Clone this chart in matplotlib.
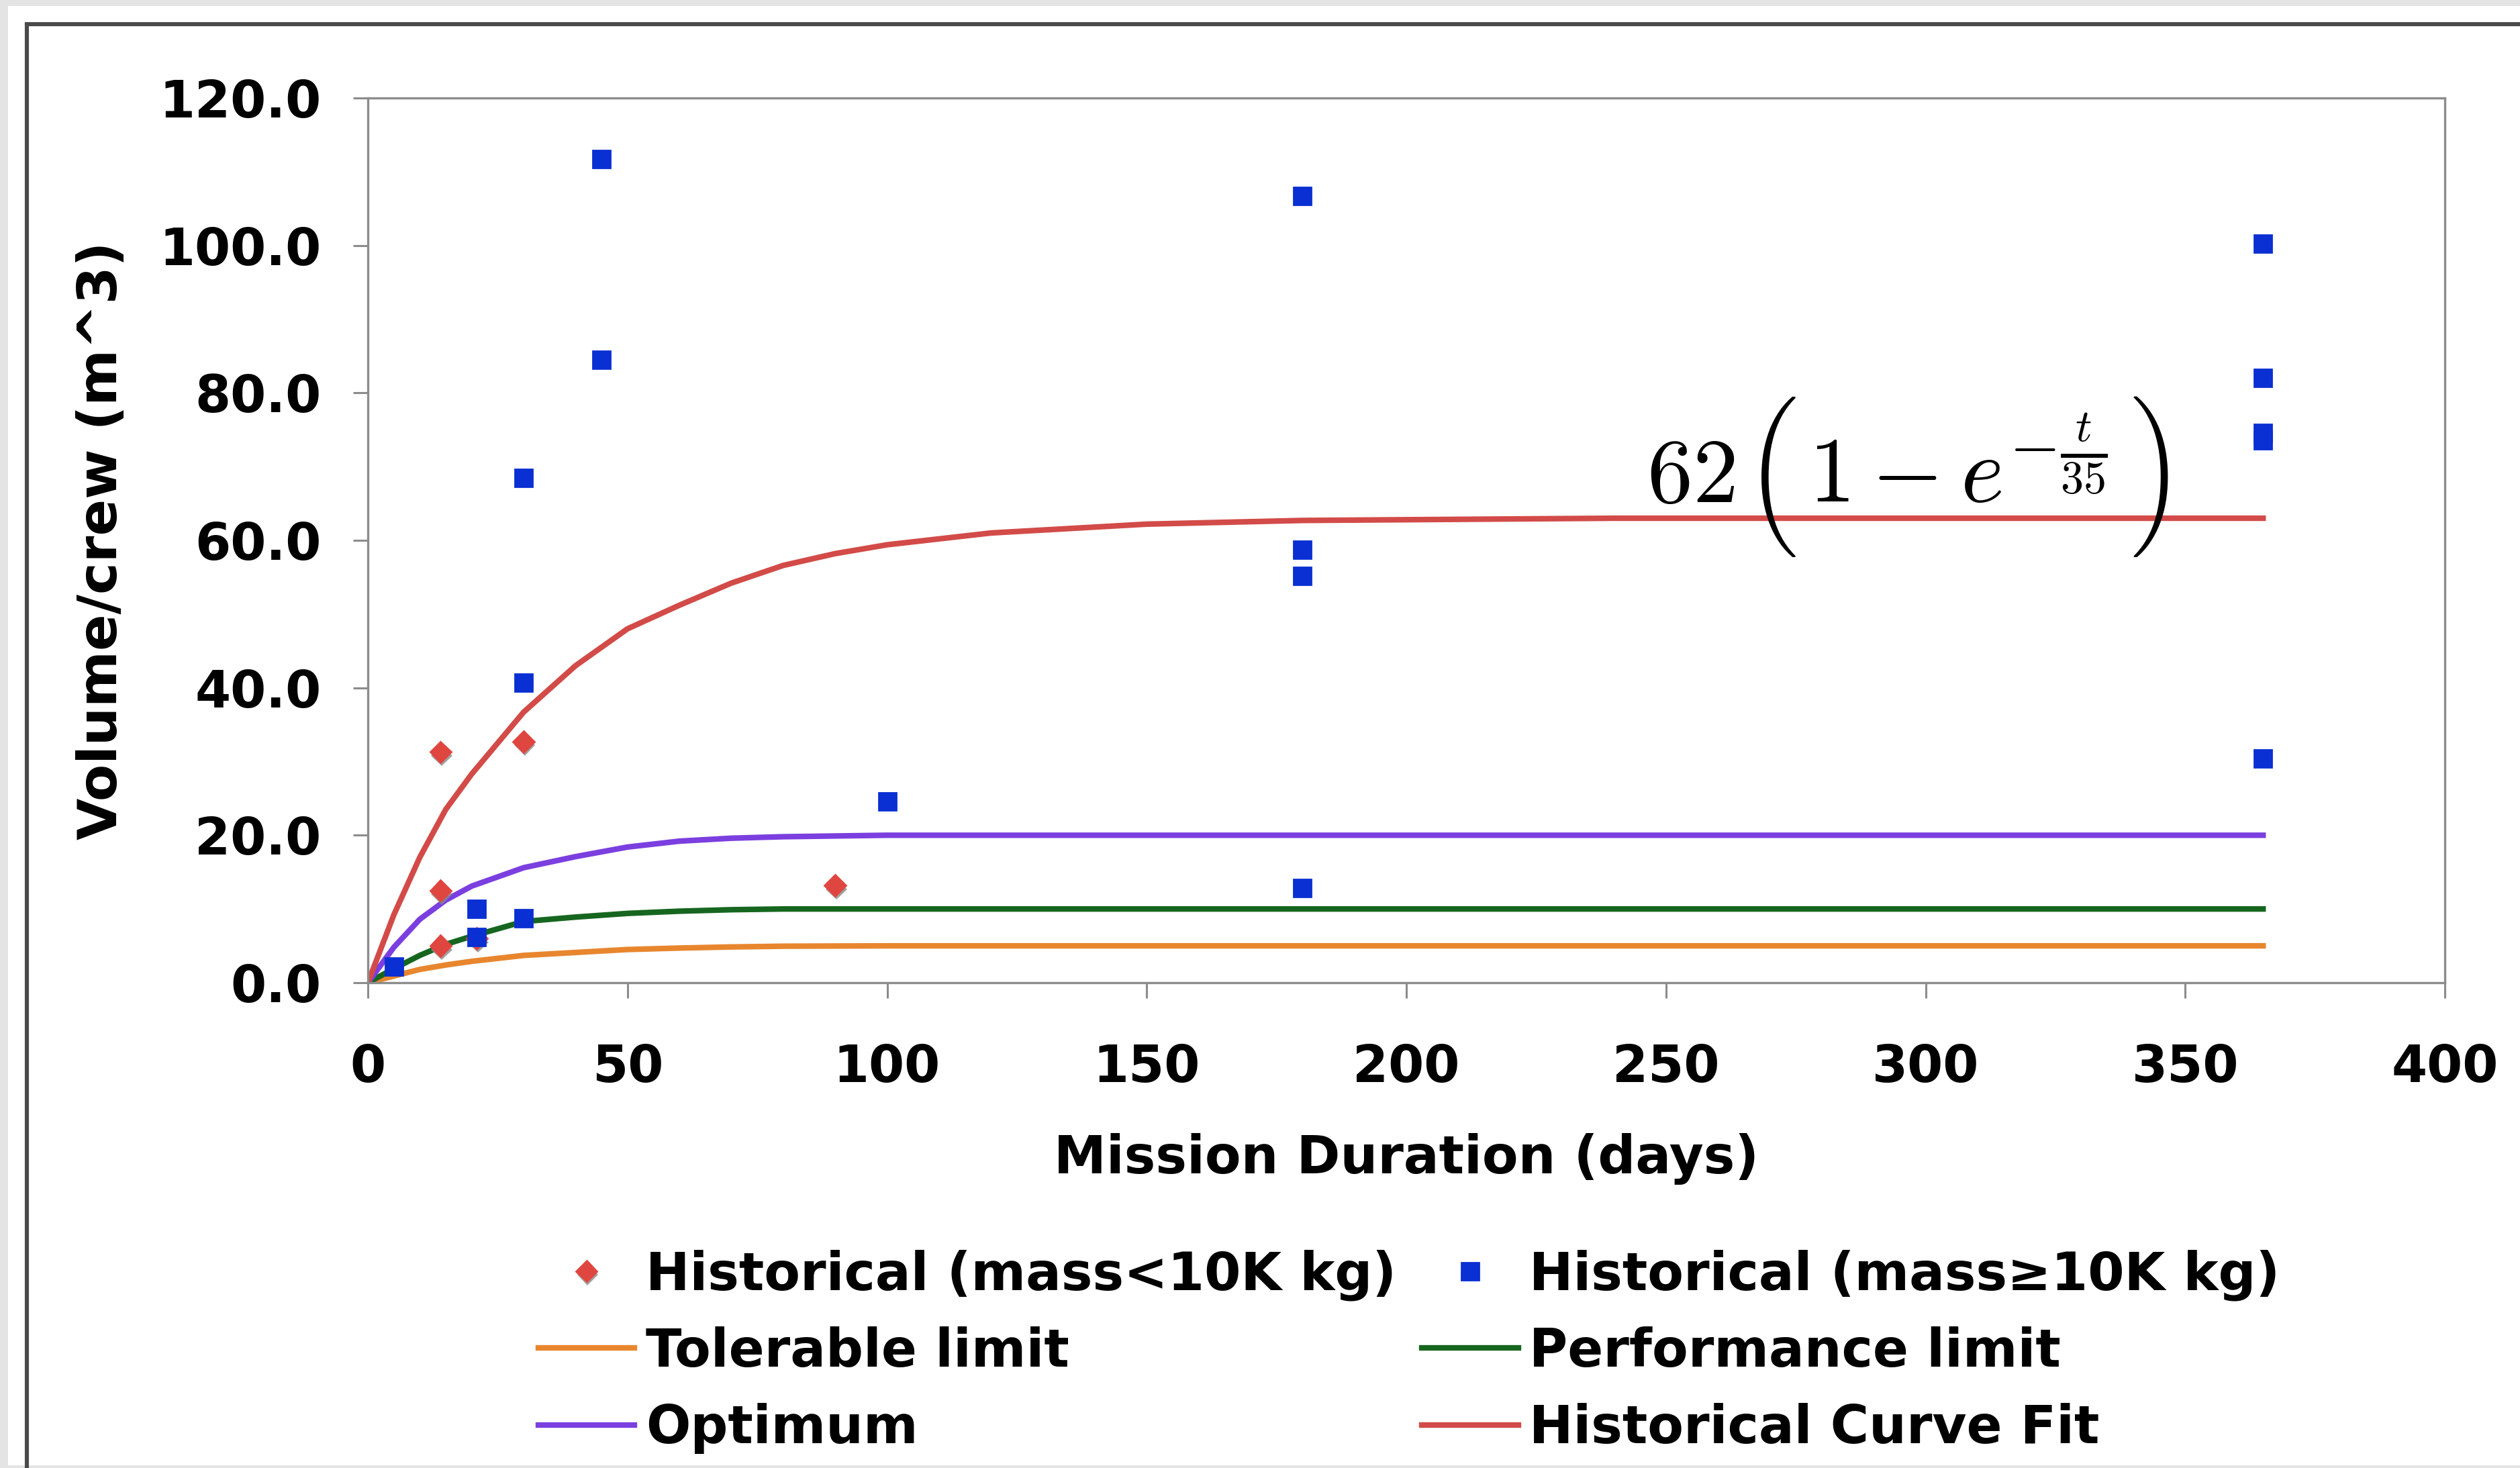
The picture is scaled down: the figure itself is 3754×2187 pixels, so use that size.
import os

import matplotlib

matplotlib.use("Agg")
import matplotlib.pyplot as plt
import matplotlib.patheffects as pe
from matplotlib.font_manager import FontProperties
from matplotlib.lines import Line2D
from matplotlib.patches import Rectangle

# historical habitats, mass < 10K kg (diamonds)
small_days = [14, 14, 14, 21, 30, 90]
small_volume = [31.3, 12.5, 5.0, 6.0, 32.7, 13.2]

# historical habitats, mass >= 10K kg (squares)
large_days = [5, 21, 21, 30, 30, 30, 45, 45, 100, 180, 180, 180, 180, 365, 365, 365, 365, 365]
large_volume = [2.2, 10.0, 6.2, 8.7, 40.7, 68.5, 111.7, 84.5, 24.6,
                106.7, 58.7, 55.2, 12.8, 100.2, 82.0, 74.6, 73.6, 30.4]

# guideline curves
limit_days = [0, 5, 10, 15, 20, 30, 40, 50, 60, 70, 80, 100, 365]
tolerable = [0, 0.9, 1.8, 2.4, 2.9, 3.7, 4.1, 4.5, 4.7, 4.85, 4.95, 5.0, 5.0]
performance = [0, 1.9, 3.7, 5.2, 6.3, 8.3, 8.9, 9.4, 9.7, 9.9, 10.0, 10.0, 10.0]
optimum = [0, 4.8, 8.6, 11.2, 13.1, 15.6, 17.1, 18.4, 19.2, 19.6, 19.8, 20.0, 20.0]

fit_days = [0, 5, 10, 15, 20, 30, 40, 50, 60, 70, 80, 90, 100, 120, 150, 180, 240, 300, 365]
curve_fit = [0, 9.2, 17.0, 23.5, 28.3, 36.7, 43.0, 48.0, 51.2, 54.2, 56.6, 58.2, 59.4,
             61.0, 62.2, 62.7, 63.0, 63.0, 63.0]

x_ticks = [0, 50, 100, 150, 200, 250, 300, 350, 400]
y_ticks = [0, 20, 40, 60, 80, 100, 120]

W, H, DPI = 3754, 2187, 200
plt.rcParams["font.family"] = ["DejaVu Sans"]
plt.rcParams["font.weight"] = "bold"
plt.rcParams["mathtext.fontset"] = "cm"
FS = 27.5
LFS = 28.2

fig = plt.figure(figsize=(W / DPI, H / DPI), dpi=DPI)
fig.patch.set_facecolor("#e4e4e4")
fig.add_artist(Rectangle((12 / W, 4 / H), 1, 1 - 13 / H, transform=fig.transFigure,
                         facecolor="white", edgecolor="none", zorder=-5))
fig.add_artist(Line2D([40 / W, 40 / W], [0, 1 - 36 / H], transform=fig.transFigure,
                      color="#4a4a4a", lw=2.2, zorder=-4))
fig.add_artist(Line2D([40 / W, 1], [1 - 36 / H, 1 - 36 / H], transform=fig.transFigure,
                      color="#4a4a4a", lw=2.2, zorder=-4))

ax = fig.add_axes([548 / W, 1 - 1464 / H, (3642 - 548) / W, (1464 - 146) / H])

shadow = [pe.SimplePatchShadow(offset=(0.6, -2.0), shadow_rgbFace="#8a8a8a", alpha=0.8), pe.Normal()]

h_tol, = ax.plot(limit_days, tolerable, color="#e8862e", lw=3.0, label="Tolerable limit", zorder=2)
h_perf, = ax.plot(limit_days, performance, color="#16661f", lw=3.0, label="Performance limit", zorder=2)
h_opt, = ax.plot(limit_days, optimum, color="#7b3fe0", lw=3.0, label="Optimum", zorder=2)
h_fit, = ax.plot(fit_days, curve_fit, color="#d24b48", lw=3.0, label="Historical Curve Fit", zorder=2)
h_small, = ax.plot(small_days, small_volume, ls="none", marker="D", ms=8, color="#e04640",
                   mec="#e04640", label="Historical (mass<10K kg)", zorder=3, path_effects=shadow)
h_large, = ax.plot(large_days, large_volume, ls="none", marker="s", ms=9.4, color="#0a2fd2",
                   mec="#0a2fd2", label="Historical (mass≥10K kg)", zorder=4)

# curve-fit equation, with TeX "Big" parentheses from the bundled cmex10 font
cmex = FontProperties(fname=os.path.join(matplotlib.get_data_path(), "fonts", "ttf", "cmex10.ttf"),
                      size=48)
ax.text(246.3, 65.15, r"$62$", fontsize=49, ha="left", va="baseline", zorder=5)
ax.text(277.4, 65.15, r"$1-e^{-\frac{t}{35}}$", fontsize=50, ha="left", va="baseline", zorder=5)
ax.text(265.3, 68.6, "\xb3", fontproperties=cmex, ha="left", va="center", zorder=5)
ax.text(339.4, 68.6, "\xb4", fontproperties=cmex, ha="left", va="center", zorder=5)

ax.set_xlim(0, 400)
ax.set_ylim(0, 120)
ax.set_xticks(x_ticks)
ax.set_yticks(y_ticks)
ax.set_yticklabels([f"{v:.1f}" for v in y_ticks])
ax.tick_params(axis="both", direction="out", color="#8c8c8c", width=1.1, labelsize=FS)
ax.tick_params(axis="x", length=8.4, pad=24)
ax.tick_params(axis="y", length=8, pad=17)
for spine in ax.spines.values():
    spine.set_color("#8c8c8c")
    spine.set_linewidth(1.2)

ax.set_xlabel("Mission Duration (days)", fontsize=LFS, fontweight="bold", labelpad=21.5)
ax.set_ylabel("Volume/crew (m^3)", fontsize=29, fontweight="bold", labelpad=16.5)

handles = [h_small, h_tol, h_opt, h_large, h_perf, h_fit]
fig.legend(handles=handles, labels=[h.get_label() for h in handles], ncol=2,
           loc="upper left", bbox_to_anchor=(802 / W, 1 - 1861 / H), frameon=False,
           borderpad=0, borderaxespad=0, handlelength=1.83, handletextpad=0.21,
           columnspacing=0.49, labelspacing=0.49, prop={"weight": "bold", "size": LFS})

fig.savefig("out.png", dpi=DPI, facecolor=fig.get_facecolor())
